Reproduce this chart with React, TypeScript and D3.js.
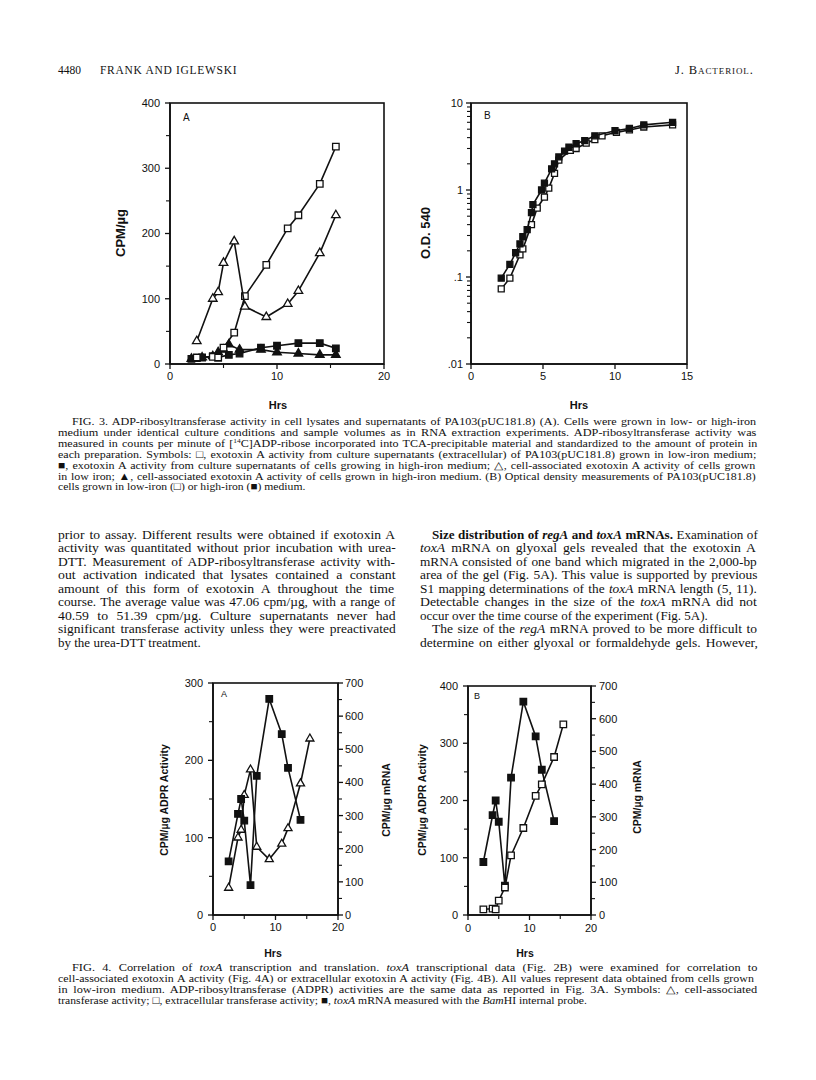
import React from 'react';
import * as d3 from 'd3';

const SERIF = "'Liberation Serif','Times New Roman',Times,serif";
const SANS = "'Liberation Sans',Arial,Helvetica,sans-serif";
const INK = '#111';

// ---------- Fig. 3A : ADP-ribosyltransferase activity (CPM/µg) vs Hrs ----------
const f3aLowExtHrs = [2.5, 4, 4.5, 5, 6, 7, 9, 11, 12, 14, 15.5];
const f3aLowExtCpm = [10, 11, 10, 25, 48, 104, 152, 208, 228, 276, 333];
const f3aHighExtHrs = [2, 2.5, 3, 4, 4.5, 5.5, 6.5, 8.5, 10, 12, 14, 15.5];
const f3aHighExtCpm = [8, 9, 10, 12, 10, 14, 16, 25, 28, 32, 32, 24];
const f3aLowCellHrs = [2.5, 4, 4.5, 5, 6, 7, 9, 11, 12, 14, 15.5];
const f3aLowCellCpm = [35, 100, 110, 155, 188, 88, 72, 92, 112, 170, 228];
const f3aHighCellHrs = [2, 3, 4, 4.5, 5, 5.5, 6.5, 8.5, 10, 12, 14, 15.5];
const f3aHighCellCpm = [8, 10, 12, 18, 22, 30, 22, 22, 18, 16, 14, 14];
const f3aYTicks = [0, 100, 200, 300, 400];
const f3aXTicks = [0, 10, 20];

// ---------- Fig. 3B : O.D. 540 (log) vs Hrs ----------
const f3bHighHrs = [2.1, 2.7, 3.1, 3.4, 3.6, 3.9, 4.2, 4.3, 4.9, 5.1, 5.6, 5.8, 6.1, 6.5, 6.8, 7.3, 7.9, 8.6, 10, 11, 12, 14];
const f3bHighOD = [0.097, 0.14, 0.19, 0.24, 0.29, 0.35, 0.55, 0.68, 1.0, 1.2, 1.75, 2.0, 2.4, 2.8, 3.1, 3.4, 3.7, 4.2, 4.8, 5.1, 5.6, 6.0];
const f3bLowHrs = [2.1, 2.7, 3.4, 3.6, 4.2, 4.6, 5.1, 5.4, 5.8, 6.1, 6.9, 7.3, 8, 8.6, 9.1, 10.1, 11, 12, 14];
const f3bLowOD = [0.073, 0.097, 0.18, 0.21, 0.4, 0.62, 0.83, 1.05, 1.55, 2.2, 2.85, 3.0, 3.45, 3.8, 4.2, 4.6, 4.9, 5.3, 5.6];
const f3bYTicks = [0.01, 0.1, 1, 10];
const f3bYLabels = ['.01', '.1', '1', '10'];
const f3bXTicks = [0, 5, 10, 15];

// ---------- Fig. 4 : toxA mRNA (CPM/µg mRNA, right axis) ----------
const f4mRnaHrs = [2.5, 4, 4.5, 5, 6, 7, 9, 11, 12, 14];
const f4mRnaCpm = [162, 305, 350, 285, 90, 420, 652, 546, 444, 287];
const f4aLeftTicks = [0, 100, 200, 300];
const f4bLeftTicks = [0, 100, 200, 300, 400];
const f4RightTicks = [0, 100, 200, 300, 400, 500, 600, 700];
const f4XTicks = [0, 10, 20];

// ---------- text ----------
const header = { page: '4480', authors: 'FRANK AND IGLEWSKI', journal: 'J. Bacteriol.' };
const fig3Caption = [
  'FIG. 3. ADP-ribosyltransferase activity in cell lysates and supernatants of PA103(pUC181.8) (A). Cells were grown in low- or high-iron',
  'medium under identical culture conditions and sample volumes as in RNA extraction experiments. ADP-ribosyltransferase activity was',
  'measured in counts per minute of [^14^C]ADP-ribose incorporated into TCA-precipitable material and standardized to the amount of protein in',
  'each preparation. Symbols: \u25A1, exotoxin A activity from culture supernatants (extracellular) of PA103(pUC181.8) grown in low-iron medium;',
  '\u25A0, exotoxin A activity from culture supernatants of cells growing in high-iron medium; \u25B3, cell-associated exotoxin A activity of cells grown',
  'in low iron; \u25B2, cell-associated exotoxin A activity of cells grown in high-iron medium. (B) Optical density measurements of PA103(pUC181.8)',
  'cells grown in low-iron (\u25A1) or high-iron (\u25A0) medium.',
];
const leftBody = [
  'prior to assay. Different results were obtained if exotoxin A',
  'activity was quantitated without prior incubation with urea-',
  'DTT. Measurement of ADP-ribosyltransferase activity with-',
  'out activation indicated that lysates contained a constant',
  'amount of this form of exotoxin A throughout the time',
  'course. The average value was 47.06 cpm/\u00B5g, with a range of',
  '40.59 to 51.39 cpm/\u00B5g. Culture supernatants never had',
  'significant transferase activity unless they were preactivated',
  'by the urea-DTT treatment.',
];
const rightBody = [
  '~Size distribution of ~%regA%~ and ~%toxA%~ mRNAs.~ Examination of',
  '_toxA_ mRNA on glyoxal gels revealed that the exotoxin A',
  'mRNA consisted of one band which migrated in the 2,000-bp',
  'area of the gel (Fig. 5A). This value is supported by previous',
  'S1 mapping determinations of the _toxA_ mRNA length (5, 11).',
  'Detectable changes in the size of the _toxA_ mRNA did not',
  'occur over the time course of the experiment (Fig. 5A).',
  'The size of the _regA_ mRNA proved to be more difficult to',
  'determine on either glyoxal or formaldehyde gels. However,',
];
const fig4Caption = [
  'FIG. 4. Correlation of _toxA_ transcription and translation. _toxA_ transcriptional data (Fig. 2B) were examined for correlation to',
  'cell-associated exotoxin A activity (Fig. 4A) or extracellular exotoxin A activity (Fig. 4B). All values represent data obtained from cells grown',
  'in low-iron medium. ADP-ribosyltransferase (ADPR) activities are the same data as reported in Fig. 3A. Symbols: \u25B3, cell-associated',
  'transferase activity; \u25A1, extracellular transferase activity; \u25A0, _toxA_ mRNA measured with the _Bam_HI internal probe.',
];

// ---------- helpers ----------
let measureCtx: CanvasRenderingContext2D | null = null;
function measure(text: string, size: number, italic: boolean, bold: boolean) {
  if (!measureCtx && typeof document !== 'undefined') measureCtx = document.createElement('canvas').getContext('2d');
  if (!measureCtx) return text.length * size * 0.45;
  measureCtx.font = `${italic ? 'italic ' : ''}${bold ? 'bold ' : ''}${size}px 'Liberation Serif', 'Times New Roman', serif`;
  return measureCtx.measureText(text).width;
}

function RichLine({ x, y, w, size, src, justify, baseK = 1 }: any) {
  const raw = src.split(/(_[^_]+_|~[^~]+~|%[^%]+%|\^[^^]+\^)/).filter((s: string) => s.length);
  const segs = raw.map((p: string) => {
    const wrap = (c: string) => p.length > 1 && p[0] === c && p[p.length - 1] === c;
    if (wrap('_')) return { t: p.slice(1, -1), i: true, b: false, sup: false };
    if (wrap('~')) return { t: p.slice(1, -1), i: false, b: true, sup: false };
    if (wrap('%')) return { t: p.slice(1, -1), i: true, b: true, sup: false };
    if (wrap('^')) return { t: p.slice(1, -1), i: false, b: false, sup: true };
    return { t: p, i: false, b: false, sup: false };
  });
  let natural = 0;
  let spaces = 0;
  segs.forEach((s: any) => {
    natural += measure(s.t, s.sup ? size * 0.62 : size, s.i, s.b);
    spaces += (s.t.match(/ /g) || []).length;
  });
  let k = baseK;
  let ws = 0;
  if (justify) {
    const r = w / (natural * baseK);
    k = baseK * Math.max(0.97, Math.min(1.06, 1 + 0.5 * (r - 1)));
    ws = spaces > 0 ? (w / k - natural) / spaces : 0;
  }
  let pendingDy = 0;
  const kids = segs.map((s: any, j: number) => {
    const props: any = { key: j };
    if (s.i) props.fontStyle = 'italic';
    if (s.b) props.fontWeight = 'bold';
    if (s.sup) {
      props.fontSize = size * 0.62;
      props.dy = -size * 0.38 + pendingDy;
      pendingDy = size * 0.38;
    } else if (pendingDy) {
      props.dy = pendingDy;
      pendingDy = 0;
    }
    return <tspan {...props}>{s.t}</tspan>;
  });
  return (
    <text transform={`translate(${x},${y}) scale(${k},1)`} x={0} y={0} fontFamily={SERIF} fontSize={size} fill={INK} style={{ wordSpacing: `${ws}px`, whiteSpace: 'pre' }}>
      {kids}
    </text>
  );
}

function Series({ xs, ys, sx, sy, kind, size }: any) {
  const idx = xs.map((_: number, i: number) => i);
  const line = d3.line<number>().x((i) => sx(xs[i])).y((i) => sy(ys[i]));
  const isSq = kind.startsWith('sq');
  const sym = d3.symbol().type(isSq ? d3.symbolSquare : d3.symbolTriangle).size(isSq ? size * size : size * size * 0.5)();
  const filled = kind.endsWith('fill');
  return (
    <g>
      <path d={line(idx) || ''} fill="none" stroke={INK} strokeWidth={1.6} strokeLinejoin="round" />
      {idx.map((i: number) => (
        <path key={i} d={sym || ''} transform={`translate(${sx(xs[i])},${sy(ys[i])})`} fill={filled ? INK : '#fff'} stroke={INK} strokeWidth={1.3} />
      ))}
    </g>
  );
}

function YAxis({ scale, x, major, minor, labels, side, fs, gap }: any) {
  const dir = side === 'left' ? -1 : 1;
  const [r0, r1] = scale.range();
  return (
    <g>
      <line x1={x} x2={x} y1={r0} y2={r1} stroke={INK} strokeWidth={1.6} />
      {major.map((v: number) => (
        <line key={'M' + v} x1={x} x2={x + dir * 5} y1={scale(v)} y2={scale(v)} stroke={INK} strokeWidth={1.3} />
      ))}
      {minor.map((v: number) => (
        <line key={'m' + v} x1={x} x2={x + dir * 4} y1={scale(v)} y2={scale(v)} stroke={INK} strokeWidth={1.1} />
      ))}
      {major.map((v: number, i: number) => (
        <text key={'L' + v} x={x + dir * gap} y={scale(v)} dy="0.36em" textAnchor={side === 'left' ? 'end' : 'start'} fontFamily={SANS} fontSize={fs} fill={INK}>
          {labels[i]}
        </text>
      ))}
    </g>
  );
}

function XAxis({ scale, y, major, minor, fs, labelY }: any) {
  const [r0, r1] = scale.range();
  return (
    <g>
      <line x1={r0} x2={r1} y1={y} y2={y} stroke={INK} strokeWidth={1.6} />
      {major.map((v: number) => (
        <line key={'M' + v} x1={scale(v)} x2={scale(v)} y1={y} y2={y + 5} stroke={INK} strokeWidth={1.3} />
      ))}
      {minor.map((v: number) => (
        <line key={'m' + v} x1={scale(v)} x2={scale(v)} y1={y} y2={y + 4} stroke={INK} strokeWidth={1.1} />
      ))}
      {major.map((v: number) => (
        <text key={'L' + v} x={scale(v)} y={labelY} textAnchor="middle" fontFamily={SANS} fontSize={fs} fill={INK}>
          {String(v)}
        </text>
      ))}
    </g>
  );
}

function VLabel({ x, y, text, fs }: any) {
  return (
    <text transform={`translate(${x},${y}) rotate(-90)`} textAnchor="middle" fontFamily={SANS} fontWeight="bold" fontSize={fs} fill={INK}>
      {text}
    </text>
  );
}

function Frame({ sx, sy }: any) {
  const [x0, x1] = sx.range();
  const [y0, y1] = sy.range();
  return <rect x={x0} y={Math.min(y0, y1)} width={x1 - x0} height={Math.abs(y0 - y1)} fill="none" stroke={INK} strokeWidth={1.6} />;
}

const halves = (ticks: number[]) => ticks.slice(0, -1).map((t, i) => (t + ticks[i + 1]) / 2);

export default function App() {
  // Fig 3A scales
  const x3a = d3.scaleLinear().domain([0, 20]).range([170, 384]);
  const y3a = d3.scaleLinear().domain([0, 400]).range([364, 103]);
  // Fig 3B scales
  const x3b = d3.scaleLinear().domain([0, 15]).range([471, 687]);
  const y3b = d3.scaleLog().domain([0.01, 10]).range([364, 103]);
  const logMinor: number[] = [];
  [0.01, 0.1, 1].forEach((d) => { for (let k = 2; k <= 9; k++) logMinor.push(d * k); });
  // Fig 4A
  const x4a = d3.scaleLinear().domain([0, 20]).range([213, 338]);
  const yl4a = d3.scaleLinear().domain([0, 300]).range([915, 683]);
  const yr4a = d3.scaleLinear().domain([0, 700]).range([915, 683]);
  // Fig 4B
  const x4b = d3.scaleLinear().domain([0, 20]).range([468, 591]);
  const yl4b = d3.scaleLinear().domain([0, 400]).range([915, 686]);
  const yr4b = d3.scaleLinear().domain([0, 700]).range([915, 686]);

  const L = 58, R = 758;
  const colW = 338;
  const rightX = R - colW;

  return (
    <svg width={816} height={1080} viewBox="0 0 816 1080" style={{ position: 'absolute', left: 0, top: 0, background: '#fff' }}>
      <rect x={0} y={0} width={816} height={1080} fill="#fff" />

      {/* header */}
      <text x={L} y={74} fontFamily={SERIF} fontSize={11.5} fill={INK}>{header.page}</text>
      <text x={100} y={74} fontFamily={SERIF} fontSize={11.5} letterSpacing={0.7} fill={INK}>{header.authors}</text>
      <text x={675} y={74} fontFamily={SERIF} fontSize={12.5} style={{ fontVariant: 'small-caps' }} letterSpacing={0.9} fill={INK}>{header.journal}</text>

      {/* ---------------- Fig 3A ---------------- */}
      <Frame sx={x3a} sy={y3a} />
      <YAxis scale={y3a} x={170} major={f3aYTicks} minor={halves(f3aYTicks)} labels={f3aYTicks.map(String)} side="left" fs={11} gap={10} />
      <XAxis scale={x3a} y={364} major={f3aXTicks} minor={halves(f3aXTicks)} fs={11} labelY={380} />
      <VLabel x={125} y={233} text={'CPM/\u00B5g'} fs={13} />
      <text x={278} y={409} textAnchor="middle" fontFamily={SANS} fontWeight="bold" fontSize={11} fill={INK}>Hrs</text>
      <text x={183} y={121} fontFamily={SANS} fontSize={10} fill={INK}>A</text>
      <Series xs={f3aHighCellHrs} ys={f3aHighCellCpm} sx={x3a} sy={y3a} kind="tri-fill" size={8} />
      <Series xs={f3aHighExtHrs} ys={f3aHighExtCpm} sx={x3a} sy={y3a} kind="sq-fill" size={6.5} />
      <Series xs={f3aLowExtHrs} ys={f3aLowExtCpm} sx={x3a} sy={y3a} kind="sq-open" size={6.5} />
      <Series xs={f3aLowCellHrs} ys={f3aLowCellCpm} sx={x3a} sy={y3a} kind="tri-open" size={8} />

      {/* ---------------- Fig 3B ---------------- */}
      <Frame sx={x3b} sy={y3b} />
      <YAxis scale={y3b} x={471} major={f3bYTicks} minor={logMinor} labels={f3bYLabels} side="left" fs={11} gap={8} />
      <XAxis scale={x3b} y={364} major={f3bXTicks} minor={[]} fs={11} labelY={380} />
      <VLabel x={430} y={233} text="O.D. 540" fs={13} />
      <text x={579} y={409} textAnchor="middle" fontFamily={SANS} fontWeight="bold" fontSize={11} fill={INK}>Hrs</text>
      <text x={484} y={119} fontFamily={SANS} fontSize={10} fill={INK}>B</text>
      <Series xs={f3bLowHrs} ys={f3bLowOD} sx={x3b} sy={y3b} kind="sq-open" size={6} />
      <Series xs={f3bHighHrs} ys={f3bHighOD} sx={x3b} sy={y3b} kind="sq-fill" size={6} />

      {/* captions & body */}
      {fig3Caption.map((s, i) => (
        <RichLine key={'c3' + i} x={i === 0 ? L + 14 : L} y={425 + i * 10.9} w={i === 0 ? R - L - 14 : R - L} size={11} baseK={1.06} src={s} justify={i < fig3Caption.length - 1} />
      ))}
      {leftBody.map((s, i) => (
        <RichLine key={'lb' + i} x={L} y={538.5 + i * 13.5} w={colW} size={13} src={s} justify={i < leftBody.length - 1} />
      ))}
      {rightBody.map((s, i) => {
        const indent = i === 0 || i === 7 ? 12 : 0;
        return <RichLine key={'rb' + i} x={rightX + indent} y={538.5 + i * 13.5} w={colW - indent} size={13} src={s} justify={i !== 6} />;
      })}

      {/* ---------------- Fig 4A ---------------- */}
      <Frame sx={x4a} sy={yl4a} />
      <YAxis scale={yl4a} x={213} major={f4aLeftTicks} minor={halves(f4aLeftTicks)} labels={f4aLeftTicks.map(String)} side="left" fs={11} gap={10} />
      <YAxis scale={yr4a} x={338} major={f4RightTicks} minor={halves(f4RightTicks)} labels={f4RightTicks.map(String)} side="right" fs={11} gap={7} />
      <XAxis scale={x4a} y={915} major={f4XTicks} minor={halves(f4XTicks)} fs={11} labelY={931} />
      <VLabel x={168} y={800} text={'CPM/\u00B5g ADPR Activity'} fs={10.5} />
      <VLabel x={390} y={800} text={'CPM/\u00B5g mRNA'} fs={10.5} />
      <text x={273} y={957} textAnchor="middle" fontFamily={SANS} fontWeight="bold" fontSize={10.5} fill={INK}>Hrs</text>
      <text x={221} y={697} fontFamily={SANS} fontSize={9} fill={INK}>A</text>
      <Series xs={f3aLowCellHrs} ys={f3aLowCellCpm} sx={x4a} sy={yl4a} kind="tri-open" size={7.5} />
      <Series xs={f4mRnaHrs} ys={f4mRnaCpm} sx={x4a} sy={yr4a} kind="sq-fill" size={6.5} />

      {/* ---------------- Fig 4B ---------------- */}
      <Frame sx={x4b} sy={yl4b} />
      <YAxis scale={yl4b} x={468} major={f4bLeftTicks} minor={halves(f4bLeftTicks)} labels={f4bLeftTicks.map(String)} side="left" fs={11} gap={10} />
      <YAxis scale={yr4b} x={591} major={f4RightTicks} minor={halves(f4RightTicks)} labels={f4RightTicks.map(String)} side="right" fs={11} gap={8} />
      <XAxis scale={x4b} y={915} major={f4XTicks} minor={halves(f4XTicks)} fs={11} labelY={932} />
      <VLabel x={426} y={800} text={'CPM/\u00B5g ADPR Activity'} fs={10.5} />
      <VLabel x={641} y={797} text={'CPM/\u00B5g mRNA'} fs={10.5} />
      <text x={525} y={957} textAnchor="middle" fontFamily={SANS} fontWeight="bold" fontSize={10.5} fill={INK}>Hrs</text>
      <text x={474} y={699} fontFamily={SANS} fontSize={9} fill={INK}>B</text>
      <Series xs={f4mRnaHrs} ys={f4mRnaCpm} sx={x4b} sy={yr4b} kind="sq-fill" size={6.5} />
      <Series xs={f3aLowExtHrs} ys={f3aLowExtCpm} sx={x4b} sy={yl4b} kind="sq-open" size={6.5} />

      {fig4Caption.map((s, i) => (
        <RichLine key={'c4' + i} x={i === 0 ? L + 14 : L} y={971 + i * 11.1} w={i === 0 ? R - L - 14 : R - L} size={11} baseK={1.06} src={s} justify={i < fig4Caption.length - 1} />
      ))}
    </svg>
  );
}
